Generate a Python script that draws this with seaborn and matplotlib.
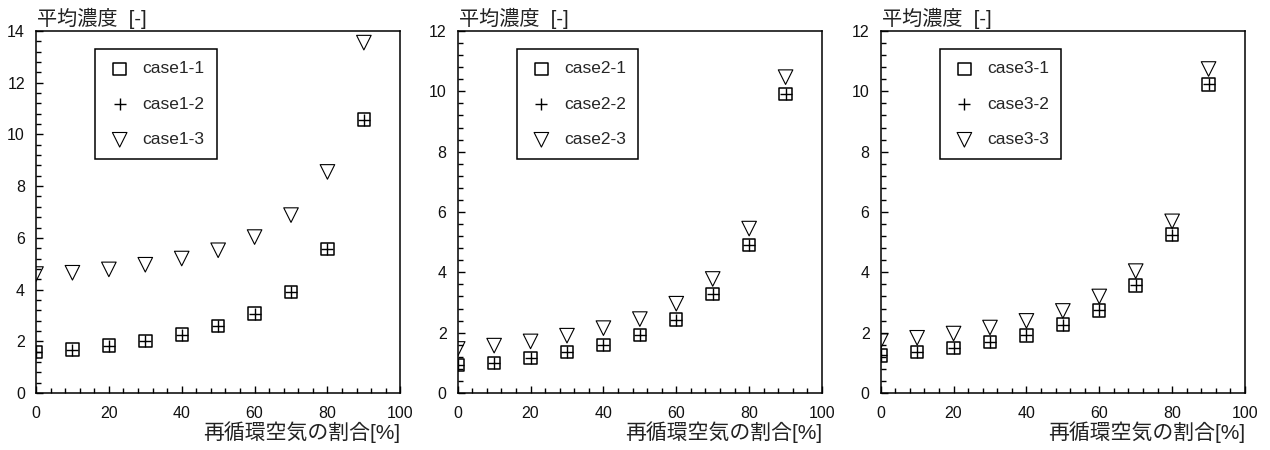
import numpy as np
import pandas as pd
import matplotlib
matplotlib.use("Agg")
import matplotlib.pyplot as plt
from matplotlib.ticker import MultipleLocator
import seaborn as sns

# ---- data ----
x_ratio = [0, 10, 20, 30, 40, 50, 60, 70, 80, 90]

case1_1 = [1.59, 1.68, 1.83, 2.01, 2.26, 2.59, 3.07, 3.91, 5.58, 10.57]
case1_2 = [1.59, 1.68, 1.83, 2.01, 2.26, 2.59, 3.07, 3.91, 5.58, 10.57]
case1_3 = [4.60, 4.65, 4.78, 4.96, 5.20, 5.52, 6.03, 6.88, 8.55, 13.55]

case2_1 = [0.92, 1.00, 1.16, 1.36, 1.60, 1.93, 2.43, 3.29, 4.91, 9.91]
case2_2 = [0.92, 1.00, 1.16, 1.36, 1.60, 1.93, 2.43, 3.29, 4.91, 9.91]
case2_3 = [1.46, 1.57, 1.71, 1.90, 2.15, 2.45, 2.96, 3.78, 5.45, 10.47]

case3_1 = [1.25, 1.36, 1.49, 1.69, 1.91, 2.27, 2.74, 3.57, 5.25, 10.23]
case3_2 = [1.25, 1.36, 1.49, 1.69, 1.91, 2.27, 2.74, 3.57, 5.25, 10.23]
case3_3 = [1.72, 1.83, 1.97, 2.17, 2.39, 2.72, 3.20, 4.04, 5.69, 10.74]

panels = [
    ("case1", [case1_1, case1_2, case1_3], 14),
    ("case2", [case2_1, case2_2, case2_3], 12),
    ("case3", [case3_1, case3_2, case3_3], 12),
]
ylabel_text = "平均濃度  [-]"
xlabel_text = "再循環空気の割合[%]"

# ---- style ----
sns.set_theme(style="white")
plt.rcParams["font.family"] = ["Liberation Sans", "Noto Sans CJK JP", "DejaVu Sans"]
plt.rcParams["axes.edgecolor"] = "black"
plt.rcParams["axes.linewidth"] = 1.1

fig = plt.figure(figsize=(12.7, 4.5), dpi=100)
lefts = [36 / 1270, 457.7 / 1270, 880.7 / 1270]
w = 364.3 / 1270
b = 1 - 393 / 450
h = (393 - 31) / 450

markers = ["s", "+", "v"]
sizes = [80, 80, 110]

for (name, series, ymax), left in zip(panels, lefts):
    ax = fig.add_axes([left, b, w, h])
    for i, (vals, mk, sz) in enumerate(zip(series, markers, sizes)):
        df = pd.DataFrame({"x": x_ratio, "y": vals})
        label = f"{name}-{i + 1}"
        if mk == "+":
            sns.scatterplot(data=df, x="x", y="y", marker=mk, s=sz, color="black",
                            linewidth=1.0, ax=ax, label=label, zorder=3)
        else:
            sns.scatterplot(data=df, x="x", y="y", marker=mk, s=sz,
                            facecolors="none", edgecolor="black",
                            linewidth=1.1 if mk == "s" else 0.8,
                            ax=ax, label=label, zorder=3)
    ax.set_xlim(0, 100)
    ax.set_ylim(0, ymax)
    ax.xaxis.set_major_locator(MultipleLocator(20))
    ax.xaxis.set_minor_locator(MultipleLocator(4))
    ax.yaxis.set_major_locator(MultipleLocator(2))
    ax.yaxis.set_minor_locator(MultipleLocator(0.4))
    ax.tick_params(which="both", direction="in", bottom=True, left=True,
                   top=False, right=False, color="black", width=1.0)
    ax.tick_params(which="major", length=5, labelsize=11.5, labelcolor="#111111")
    ax.tick_params(which="minor", length=3.5)
    ax.tick_params(axis="x", which="major", pad=9)
    ax.tick_params(axis="y", which="major", pad=8)
    for s in ax.spines.values():
        s.set_visible(True)
        s.set_color("black")
        s.set_linewidth(1.1)
    ax.set_xlabel("")
    ax.set_ylabel("")
    ax.text(0.003, 1.035, ylabel_text, transform=ax.transAxes, ha="left", va="center",
            fontsize=14.5, color="#222222")
    ax.text(1.0, -0.108, xlabel_text, transform=ax.transAxes, ha="right", va="center",
            fontsize=15, color="#222222")
    leg = ax.legend(loc="upper left", bbox_to_anchor=(0.163, 0.95), borderaxespad=0,
                    fontsize=12.5, frameon=True, fancybox=False, edgecolor="black",
                    labelspacing=1.17, handlelength=1.4, handletextpad=0.6,
                    borderpad=0.7, scatterpoints=1)
    leg.get_frame().set_linewidth(1.1)
    leg.get_frame().set_alpha(1)

fig.savefig("out.png", dpi=100, facecolor="white")
